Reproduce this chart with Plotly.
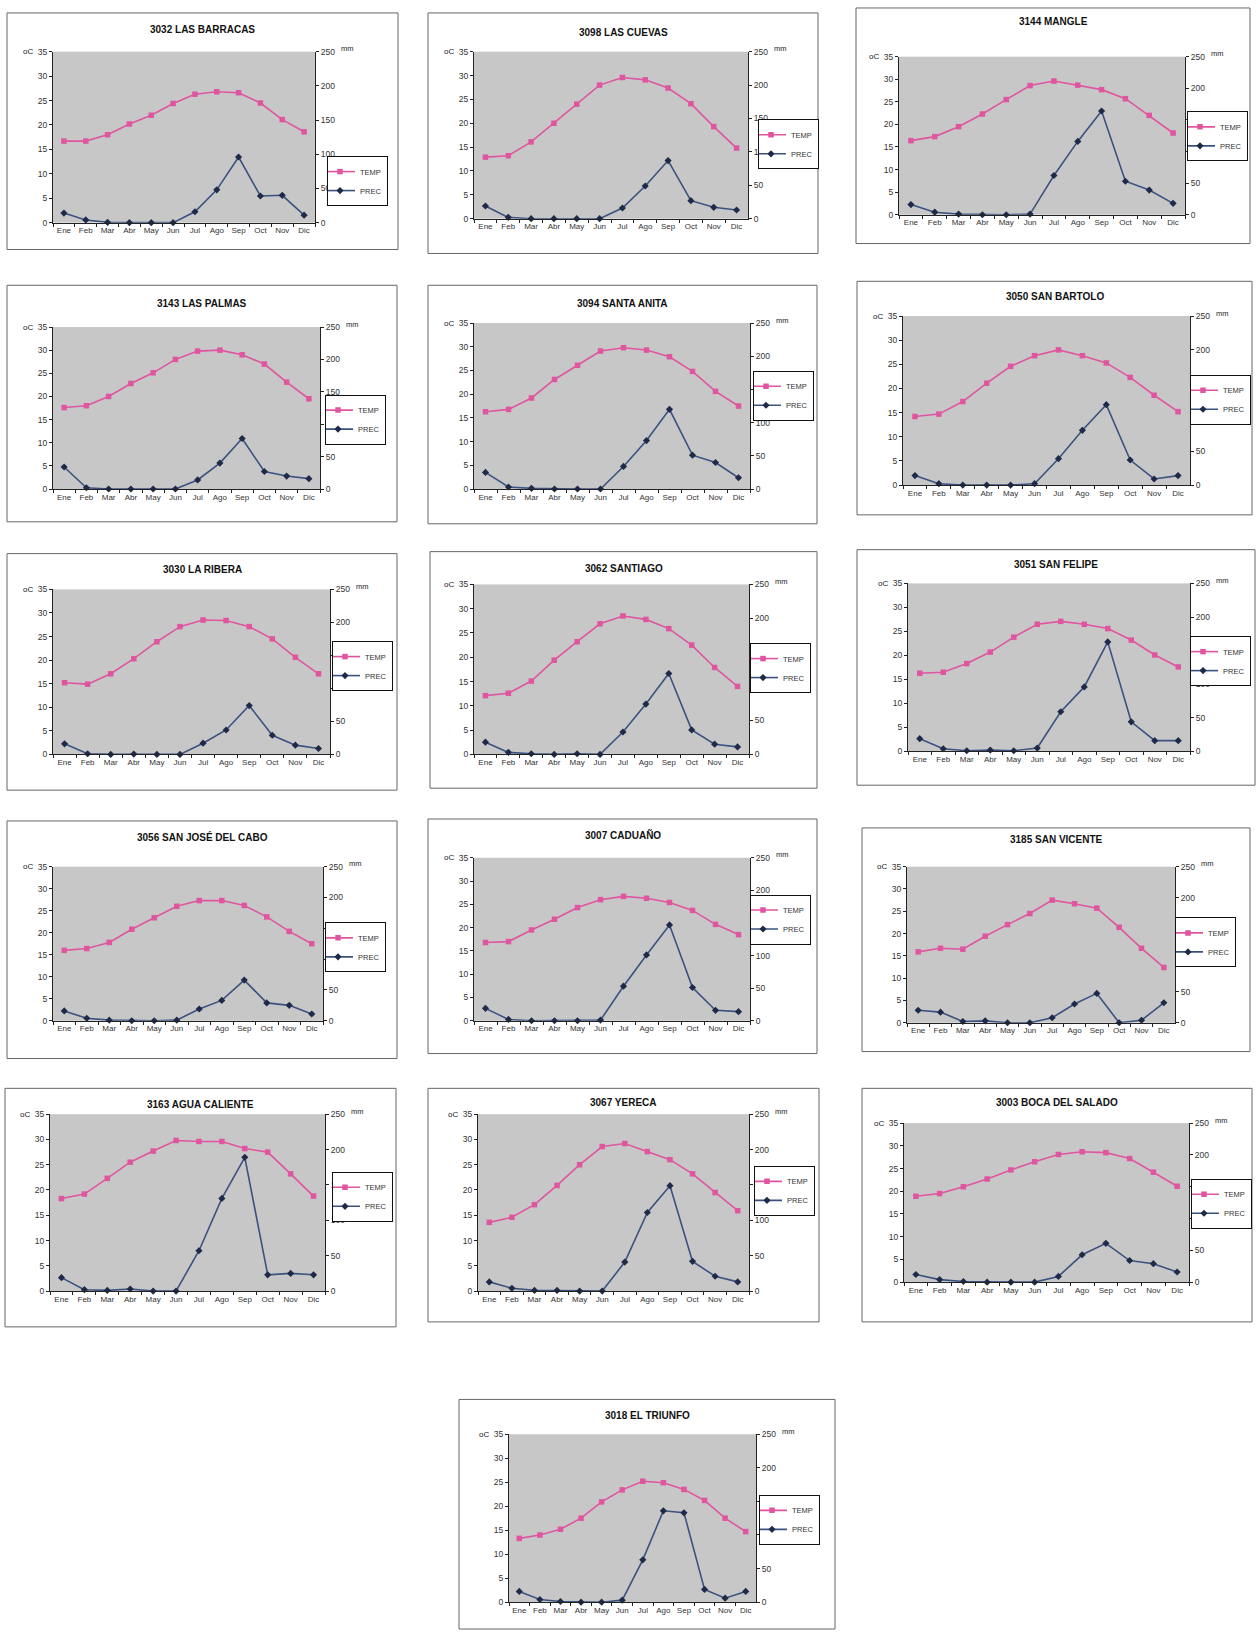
import plotly.graph_objects as go

# Month labels (x categories)
MONTHS = ["Ene", "Feb", "Mar", "Abr", "May", "Jun", "Jul", "Ago", "Sep", "Oct", "Nov", "Dic"]

# Station titles
STATIONS = [
    "3032 LAS BARRACAS", "3098 LAS CUEVAS", "3144 MANGLE",
    "3143 LAS PALMAS", "3094 SANTA ANITA", "3050 SAN BARTOLO",
    "3030 LA RIBERA", "3062 SANTIAGO", "3051 SAN FELIPE",
    "3056 SAN JOSÉ DEL CABO", "3007 CADUAÑO", "3185 SAN VICENTE",
    "3163 AGUA CALIENTE", "3067 YERECA", "3003 BOCA DEL SALADO",
    "3018 EL TRIUNFO",
]

# Mean monthly temperature (°C)
temp_3032 = [16.7, 16.7, 18.0, 20.2, 22.0, 24.4, 26.3, 26.8, 26.6, 24.5, 21.1, 18.6]
temp_3098 = [12.9, 13.2, 16.1, 20.0, 24.0, 28.0, 29.6, 29.1, 27.4, 24.1, 19.3, 14.8]
temp_3144 = [16.4, 17.3, 19.5, 22.3, 25.5, 28.6, 29.6, 28.7, 27.7, 25.7, 22.0, 18.1]
temp_3143 = [17.6, 18.0, 20.0, 22.8, 25.1, 28.0, 29.8, 30.0, 29.0, 27.0, 23.1, 19.5]
temp_3094 = [16.3, 16.8, 19.2, 23.1, 26.1, 29.1, 29.8, 29.3, 27.9, 24.8, 20.6, 17.5]
temp_3050 = [14.2, 14.7, 17.3, 21.1, 24.6, 26.8, 28.0, 26.8, 25.3, 22.3, 18.6, 15.2]
temp_3030 = [15.2, 14.9, 17.1, 20.3, 23.9, 27.1, 28.5, 28.4, 27.1, 24.5, 20.6, 17.1]
temp_3062 = [12.1, 12.6, 15.1, 19.4, 23.2, 26.9, 28.5, 27.8, 25.9, 22.5, 17.9, 14.0]
temp_3051 = [16.3, 16.5, 18.3, 20.7, 23.8, 26.5, 27.1, 26.5, 25.6, 23.2, 20.1, 17.6]
temp_3056 = [16.0, 16.4, 17.8, 20.8, 23.4, 26.0, 27.3, 27.3, 26.2, 23.6, 20.3, 17.5]
temp_3007 = [16.8, 17.0, 19.5, 21.8, 24.3, 26.0, 26.7, 26.3, 25.4, 23.7, 20.7, 18.5]
temp_3185 = [15.9, 16.7, 16.5, 19.4, 22.0, 24.5, 27.5, 26.7, 25.7, 21.4, 16.7, 12.4]
temp_3163 = [18.3, 19.2, 22.3, 25.5, 27.7, 29.8, 29.6, 29.6, 28.2, 27.5, 23.2, 18.8]
temp_3067 = [13.6, 14.6, 17.1, 20.9, 25.0, 28.6, 29.2, 27.6, 26.0, 23.2, 19.5, 15.9]
temp_3003 = [18.9, 19.5, 21.0, 22.7, 24.7, 26.5, 28.1, 28.7, 28.5, 27.2, 24.2, 21.1]
temp_3018 = [13.3, 14.0, 15.2, 17.5, 20.9, 23.4, 25.2, 24.9, 23.5, 21.2, 17.5, 14.7]

# Monthly precipitation (mm)
prec_3032 = [14, 4, 0.5, 0, 0, 0, 16, 48, 96, 39, 40, 11]
prec_3098 = [19, 2, 0, 0, 0, 0, 16, 49, 87, 27, 17, 13]
prec_3144 = [16, 4, 1, 0, 0, 1, 62, 116, 164, 53, 39, 18]
prec_3143 = [34, 2, 0, 0, 0, 0, 14, 40, 78, 27, 20, 16]
prec_3094 = [25, 3, 1, 0, 0, 0, 34, 73, 120, 51, 40, 17]
prec_3050 = [14, 2, 0, 0, 0, 2, 39, 81, 119, 37, 9, 14]
prec_3030 = [16, 1, 0, 0.5, 0, 0, 17, 37, 74, 29, 14, 9]
prec_3062 = [18, 3, 1, 0, 1, 0, 33, 74, 119, 36, 15, 11]
prec_3051 = [19, 4, 1, 2, 1, 5, 59, 96, 163, 44, 16, 16]
prec_3056 = [16, 4, 1, 0, 0, 1, 19, 33, 66, 29, 25, 11]
prec_3007 = [19, 2, 0, 0, 0, 1, 53, 101, 147, 51, 16, 14]
prec_3185 = [20, 17, 2, 3, 0, 0, 8, 30, 47, 0, 4, 32]
prec_3163 = [19, 2, 1, 3, 0, 0, 57, 131, 189, 23, 25, 23]
prec_3067 = [13, 4, 1, 1, 0, 0, 41, 111, 149, 42, 21, 13]
prec_3003 = [12, 4, 1, 0, 0, 0, 9, 43, 61, 34, 29, 16]
prec_3018 = [16, 4, 1, 0, 0, 3, 63, 136, 133, 19, 6, 16]

TEMPS = [temp_3032, temp_3098, temp_3144, temp_3143, temp_3094, temp_3050,
         temp_3030, temp_3062, temp_3051, temp_3056, temp_3007, temp_3185,
         temp_3163, temp_3067, temp_3003, temp_3018]
PRECS = [prec_3032, prec_3098, prec_3144, prec_3143, prec_3094, prec_3050,
         prec_3030, prec_3062, prec_3051, prec_3056, prec_3007, prec_3185,
         prec_3163, prec_3067, prec_3003, prec_3018]

# Axis ticks
TEMP_TICKS = [0, 5, 10, 15, 20, 25, 30, 35]
PREC_TICKS = [0, 50, 100, 150, 200, 250]

# ---- page geometry (pixels) ----
W, H = 1256, 1636

# box: frame (l, t, r, b); plot: plotting area (l, t, r, b); ty: title centre; leg: legend top-left
PANELS = [
    dict(box=(7, 8, 398, 246), plot=(53, 47, 315, 219), ty=25, leg=(327, 152)),
    dict(box=(428, 8, 818, 250), plot=(474, 47, 748, 215), ty=28, leg=(758, 115)),
    dict(box=(856, 3, 1250, 240), plot=(899, 52, 1185, 211), ty=17, leg=(1187, 107)),
    dict(box=(7, 282, 397, 520), plot=(53, 324, 320, 487), ty=300, leg=(325, 392)),
    dict(box=(428, 282, 817, 522), plot=(474, 320, 750, 487), ty=300, leg=(753, 368)),
    dict(box=(857, 278, 1252, 513), plot=(903, 313, 1190, 483), ty=293, leg=(1190, 372)),
    dict(box=(7, 552, 397, 790), plot=(53, 588, 330, 754), ty=568, leg=(332, 640)),
    dict(box=(430, 550, 817, 788), plot=(474, 583, 749, 754), ty=567, leg=(750, 642)),
    dict(box=(857, 548, 1255, 785), plot=(908, 582, 1190, 751), ty=563, leg=(1190, 635)),
    dict(box=(7, 821, 397, 1060), plot=(53, 867, 323, 1022), ty=837, leg=(325, 923)),
    dict(box=(428, 819, 817, 1055), plot=(474, 858, 750, 1022), ty=835, leg=(750, 895)),
    dict(box=(862, 828, 1250, 1053), plot=(907, 867, 1175, 1024), ty=840, leg=(1175, 918)),
    dict(box=(5, 1090, 396, 1330), plot=(50, 1116, 325, 1294), ty=1106, leg=(332, 1174)),
    dict(box=(428, 1090, 819, 1325), plot=(478, 1116, 749, 1294), ty=1104, leg=(754, 1168)),
    dict(box=(862, 1090, 1252, 1325), plot=(904, 1125, 1189, 1285), ty=1104, leg=(1191, 1181)),
    dict(box=(459, 1403, 835, 1634), plot=(509, 1438, 756, 1607), ty=1419, leg=(759, 1499)),
]

TEMP_COLOR = "#e0559f"
PREC_COLOR = "#3b5280"
PREC_MARK = "#1e2a48"
FONT = "Arial, Liberation Sans, sans-serif"
TICK_FONT = dict(size=8.5, color="#333")


def fx(v):
    return v / W


def fy(v):
    return 1 - v / H


fig = go.Figure()
shapes, annotations = [], []
layout = dict(
    width=W, height=H, margin=dict(l=0, r=0, t=0, b=0),
    paper_bgcolor="white", plot_bgcolor="#c7c7c7",
    font=dict(family=FONT, size=8, color="#333"),
    showlegend=True,
)

for i, (name, temp, prec, p) in enumerate(zip(STATIONS, TEMPS, PRECS, PANELS)):
    k = i + 1
    xs = "" if k == 1 else str(k)
    y1 = 2 * k - 1
    y2 = 2 * k
    y1s = "" if y1 == 1 else str(y1)
    leg = "legend" if k == 1 else f"legend{k}"

    pl, pt, pr, pb = p["plot"]
    bl, bt, br, bb = p["box"]

    fig.add_trace(go.Scatter(
        x=MONTHS, y=temp, name="TEMP", mode="lines+markers",
        line=dict(color=TEMP_COLOR, width=1.6),
        marker=dict(symbol="square", size=5.5, color=TEMP_COLOR),
        xaxis=f"x{xs}", yaxis=f"y{y1s}", legend=leg, cliponaxis=False,
    ))
    fig.add_trace(go.Scatter(
        x=MONTHS, y=prec, name="PREC", mode="lines+markers",
        line=dict(color=PREC_COLOR, width=1.6),
        marker=dict(symbol="diamond", size=5.5, color=PREC_MARK),
        xaxis=f"x{xs}", yaxis=f"y{y2}", legend=leg, cliponaxis=False,
    ))

    layout[f"xaxis{xs}"] = dict(
        domain=[fx(pl), fx(pr)], anchor=f"y{y1s}", type="category",
        range=[-0.5, 11.5], tickson="boundaries", ticks="outside", ticklen=3,
        tickcolor="#222", showline=True, linecolor="#222", linewidth=1,
        showgrid=False, zeroline=False, fixedrange=True, tickangle=0,
        tickfont=dict(size=8, color="#333"),
    )
    layout[f"yaxis{y1s}"] = dict(
        domain=[fy(pb), fy(pt)], anchor=f"x{xs}", range=[0, 35],
        tickvals=TEMP_TICKS, ticks="outside", ticklen=3, tickcolor="#222",
        showline=True, linecolor="#222", linewidth=1, showgrid=False,
        zeroline=False, fixedrange=True, tickfont=TICK_FONT,
    )
    layout[f"yaxis{y2}"] = dict(
        overlaying=f"y{y1s}", side="right", anchor=f"x{xs}", range=[0, 250],
        tickvals=PREC_TICKS, ticks="outside", ticklen=3, tickcolor="#222",
        showline=True, linecolor="#222", linewidth=1, showgrid=False,
        zeroline=False, fixedrange=True, tickfont=TICK_FONT,
    )
    layout[leg] = dict(
        x=fx(p["leg"][0]), y=fy(p["leg"][1]), xanchor="left", yanchor="top",
        xref="paper", yref="paper",
        bgcolor="white", bordercolor="#111", borderwidth=1,
        font=dict(size=7.5, color="#333"), itemwidth=30, tracegroupgap=0,
        indentation=-8,
    )

    # frame around each climograph
    shapes.append(dict(type="rect", xref="paper", yref="paper",
                       x0=fx(bl), x1=fx(br), y0=fy(bb), y1=fy(bt),
                       line=dict(color="#666", width=1), fillcolor="rgba(0,0,0,0)",
                       layer="below"))
    # station title
    annotations.append(dict(text=f"<b>{name}</b>", x=fx((bl + br) / 2), y=fy(p["ty"]),
                            xref="paper", yref="paper", showarrow=False,
                            xanchor="center", yanchor="middle",
                            font=dict(size=10, color="#111", family=FONT)))
    # unit labels
    annotations.append(dict(text="oC", x=fx(pl - 18), y=fy(pt), xref="paper", yref="paper",
                            showarrow=False, xanchor="right", yanchor="middle",
                            font=dict(size=8, color="#222")))
    annotations.append(dict(text="mm", x=fx(pr + 24), y=fy(pt - 3), xref="paper", yref="paper",
                            showarrow=False, xanchor="left", yanchor="middle",
                            font=dict(size=7.5, color="#222")))

layout["shapes"] = shapes
layout["annotations"] = annotations
fig.update_layout(**layout)

fig.write_html("out.html")
